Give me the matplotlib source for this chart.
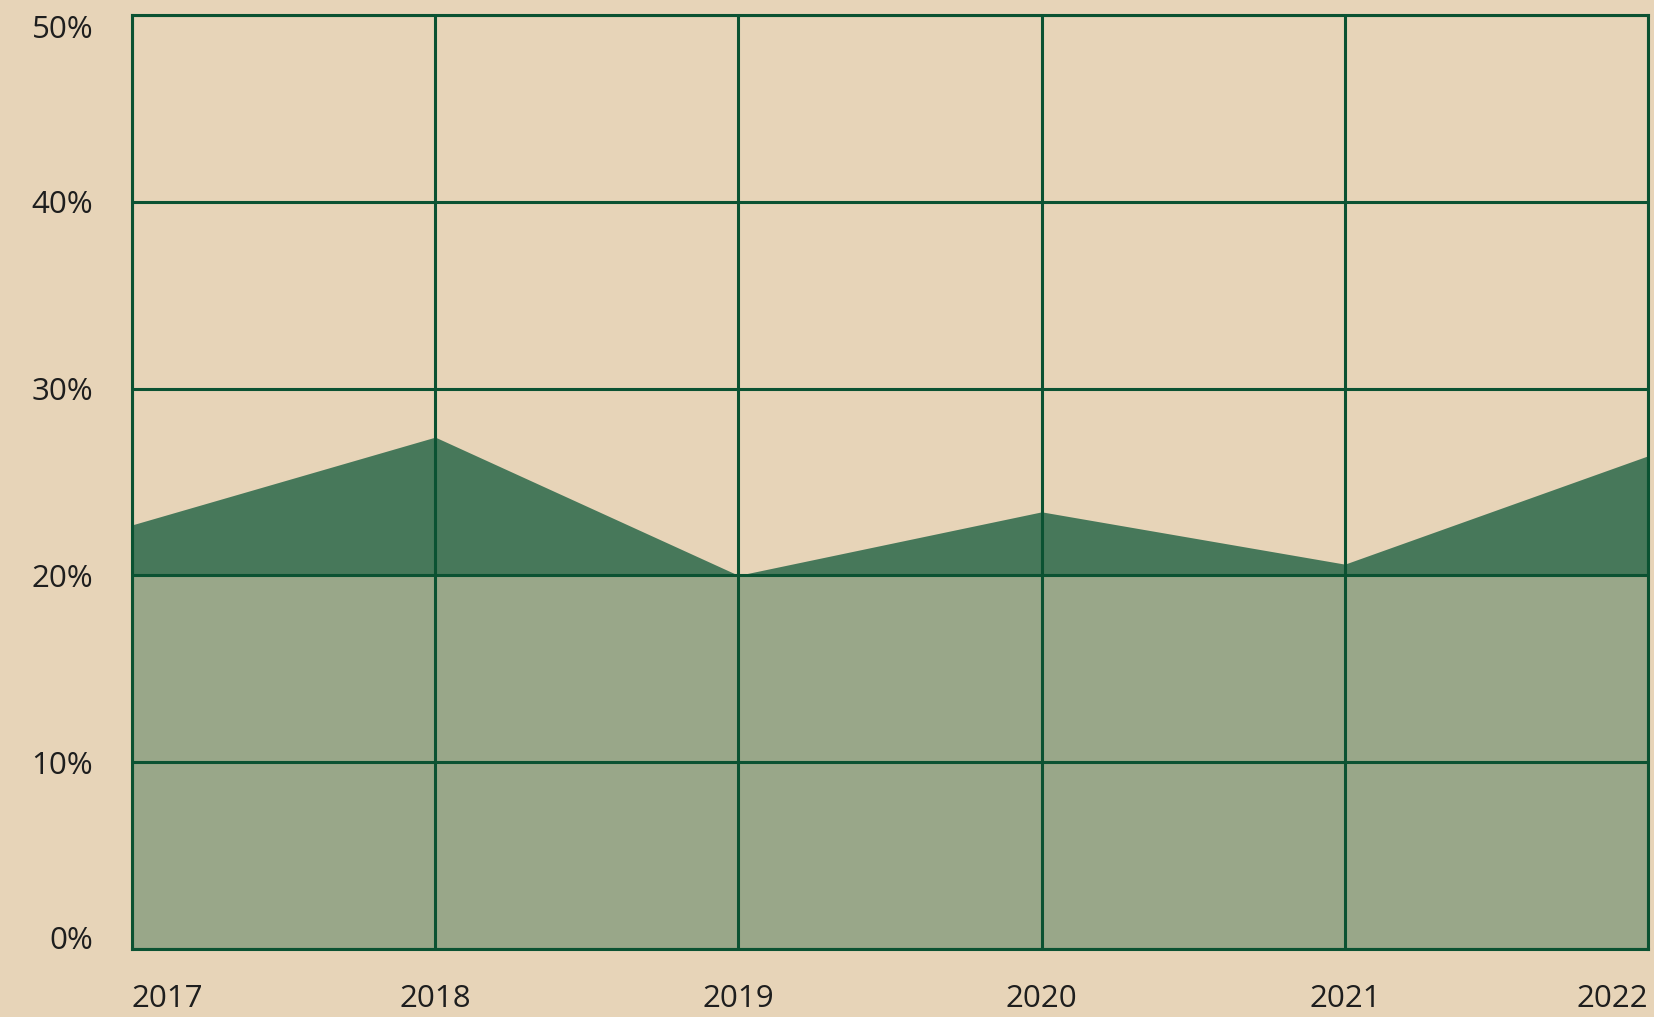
import matplotlib.pyplot as plt

# Data
years = [2017, 2018, 2019, 2020, 2021, 2022]
base_share = [20.0, 20.0, 20.0, 20.0, 20.0, 20.0]
total_share = [22.7, 27.4, 20.0, 23.4, 20.6, 26.4]
y_ticks = [0, 10, 20, 30, 40, 50]

paper = '#e7d4b8'
light_green = '#99a789'
dark_green = '#47785a'
grid_green = '#0b5232'
text_color = '#1e1e1e'

plt.rcParams['font.family'] = ['Open Sans', 'DejaVu Sans']

fig = plt.figure(figsize=(16.54, 10.17), dpi=100, facecolor=paper)
ax = fig.add_axes([0.0798, 0.0669, 0.9166, 0.9184])
ax.set_facecolor(paper)

# Areas
ax.fill_between(years, 0, base_share, color=light_green, lw=0, zorder=1)
ax.fill_between(years, base_share, total_share, color=dark_green, lw=0, zorder=1)

ax.set_xlim(years[0], years[-1])
ax.set_ylim(0, 50)

# Grid on top of the areas
ax.set_axisbelow(False)
ax.grid(True, color=grid_green, lw=2.2, zorder=3)
for sp in ax.spines.values():
    sp.set_color(grid_green)
    sp.set_linewidth(2.2)
    sp.set_zorder(3)

ax.set_yticks(y_ticks)
ax.set_yticklabels([f'{v}%' for v in y_ticks])
ax.set_xticks(years)
ax.set_xticklabels([str(y) for y in years])
ax.tick_params(axis='y', length=0, pad=28, labelsize=22.5, labelcolor=text_color)
ax.tick_params(axis='x', length=0, pad=25, labelsize=22.5, labelcolor=text_color)

xl = ax.get_xticklabels()
xl[0].set_horizontalalignment('left')
xl[-1].set_horizontalalignment('right')
yl = ax.get_yticklabels()
yl[-1].set_verticalalignment('top')
yl[0].set_verticalalignment('baseline')

fig.savefig('out.png', dpi=100, facecolor=paper)
